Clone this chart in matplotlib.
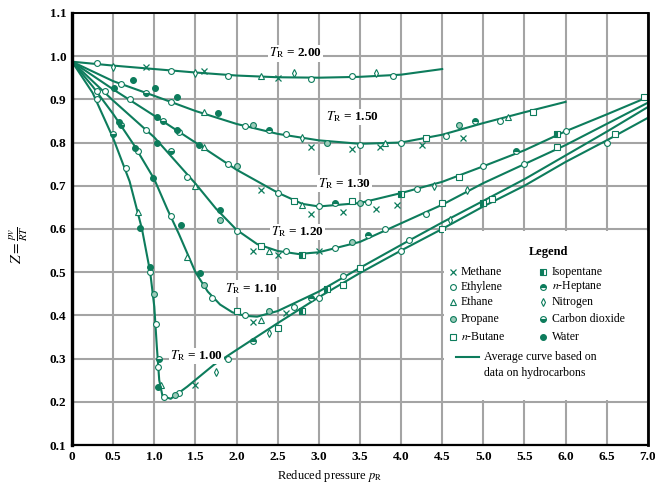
import matplotlib
matplotlib.use("Agg")
import matplotlib.pyplot as plt
from matplotlib.patches import Rectangle

plt.rcParams["font.family"] = ["Liberation Serif", "DejaVu Serif"]
plt.rcParams["mathtext.fontset"] = "stix"

GREEN = "#0d7c5c"
GRID = "#a4a4a4"

# ---------------------------------------------------------------------
# Average curves: reduced pressure -> Z
# ---------------------------------------------------------------------
pr_200 = [0, 0.5, 1.0, 1.5, 2.0, 2.5, 3.0, 3.5, 4.0, 4.5]
z_200 = [0.987, 0.978, 0.970, 0.962, 0.955, 0.951, 0.950, 0.952, 0.957, 0.970]

pr_150 = [0, 0.5, 1.0, 1.5, 2.0, 2.5, 3.0, 3.5, 4.0, 4.5, 5.0, 5.5, 6.0]
z_150 = [0.987, 0.942, 0.908, 0.873, 0.843, 0.820, 0.805, 0.797, 0.800, 0.818,
         0.845, 0.870, 0.894]

pr_130 = [0, 0.5, 1.0, 1.5, 2.0, 2.5, 2.8, 3.0, 3.5, 4.0, 4.5, 5.0, 5.5, 6.0,
          6.5, 7.0]
z_130 = [0.987, 0.923, 0.862, 0.800, 0.737, 0.684, 0.658, 0.652, 0.660, 0.683,
         0.709, 0.745, 0.782, 0.826, 0.865, 0.905]

pr_120 = [0, 0.5, 1.0, 1.5, 1.75, 2.0, 2.25, 2.5, 2.75, 3.0, 3.5, 4.0, 4.5,
          5.0, 5.5, 6.0, 6.5, 7.0]
z_120 = [0.987, 0.897, 0.812, 0.705, 0.647, 0.598, 0.565, 0.549, 0.542, 0.546,
         0.570, 0.613, 0.656, 0.706, 0.750, 0.794, 0.843, 0.892]

pr_110 = [0, 0.25, 0.5, 0.75, 1.0, 1.16, 1.3, 1.5, 1.65, 1.8, 1.95, 2.1, 2.25,
          2.5, 3.0, 3.5, 4.0, 4.5, 5.0, 5.5, 6.0, 6.5, 7.0]
z_110 = [0.987, 0.930, 0.866, 0.795, 0.715, 0.645, 0.588, 0.500, 0.455, 0.425,
         0.407, 0.399, 0.397, 0.410, 0.455, 0.510, 0.563, 0.615, 0.665, 0.715,
         0.770, 0.825, 0.882]

pr_100 = [0, 0.25, 0.5, 0.7, 0.85, 0.95, 1.0, 1.03, 1.06, 1.1, 1.2, 1.4, 1.72,
          2.0, 2.5, 3.0, 3.5, 4.0, 4.5, 5.0, 5.5, 6.0, 6.5, 7.0]
z_100 = [0.987, 0.915, 0.810, 0.710, 0.600, 0.500, 0.420, 0.330, 0.250, 0.213,
         0.207, 0.235, 0.285, 0.320, 0.382, 0.442, 0.498, 0.550, 0.600, 0.652,
         0.700, 0.755, 0.805, 0.857]

curves = [(pr_200, z_200), (pr_150, z_150), (pr_130, z_130),
          (pr_120, z_120), (pr_110, z_110), (pr_100, z_100)]

curve_labels = ["2.00", "1.50", "1.30", "1.20", "1.10", "1.00"]
label_x = [2.72, 3.41, 3.31, 2.74, 2.18, 1.51]
label_z = [1.007, 0.859, 0.706, 0.593, 0.463, 0.306]

# ---------------------------------------------------------------------
# Experimental points per gas (pr, z), read approximately off the chart
# ---------------------------------------------------------------------
methane_pr = [0.9, 1.6, 2.5, 2.9, 3.4, 3.75, 4.25, 4.75, 2.3, 2.9, 3.3, 3.7,
              3.95, 2.2, 2.5, 3.0, 2.2, 2.6, 1.5]
methane_z = [0.975, 0.965, 0.950, 0.790, 0.785, 0.790, 0.795, 0.810, 0.690,
             0.635, 0.640, 0.645, 0.655, 0.550, 0.540, 0.550, 0.385, 0.405, 0.240]

ethylene_pr = [0.3, 1.2, 1.9, 2.9, 3.4, 3.9, 0.6, 1.2, 2.1, 2.6, 3.5, 4.0, 4.55,
               5.2, 0.7, 1.3, 1.9, 2.5, 3.0, 3.6, 4.2, 5.0, 6.0, 0.4, 0.9, 1.4,
               2.0, 2.6, 3.2, 3.8, 4.3, 5.5, 0.3, 0.8, 1.2, 1.7, 2.1, 2.7, 3.3,
               4.1, 0.3, 0.65, 0.95, 1.02, 1.05, 1.12, 1.3, 1.9, 3.0, 4.0, 6.5]
ethylene_z = [0.985, 0.965, 0.955, 0.948, 0.955, 0.955, 0.935, 0.893, 0.838,
              0.820, 0.795, 0.800, 0.815, 0.850, 0.900, 0.825, 0.750, 0.684,
              0.652, 0.663, 0.692, 0.745, 0.826, 0.920, 0.830, 0.720, 0.595,
              0.550, 0.555, 0.600, 0.635, 0.750, 0.920, 0.780, 0.630, 0.440,
              0.400, 0.420, 0.490, 0.575, 0.900, 0.740, 0.500, 0.380, 0.280,
              0.210, 0.220, 0.300, 0.440, 0.550, 0.800]

ethane_pr = [2.3, 1.6, 3.8, 5.3, 1.6, 2.8, 1.5, 2.4, 1.4, 2.3, 0.8, 1.08]
ethane_z = [0.955, 0.870, 0.800, 0.860, 0.790, 0.655, 0.700, 0.550, 0.535,
            0.390, 0.640, 0.240]

propane_pr = [2.2, 3.1, 4.7, 2.0, 3.5, 1.8, 3.4, 1.6, 2.4, 1.0, 1.25]
propane_z = [0.840, 0.800, 0.840, 0.745, 0.660, 0.620, 0.570, 0.470, 0.410,
             0.450, 0.215]

butane_pr = [4.3, 5.6, 2.7, 3.4, 4.7, 6.95, 2.3, 4.5, 5.9, 2.0, 3.5, 5.1, 2.5,
             3.3, 4.5, 6.6]
butane_z = [0.810, 0.870, 0.665, 0.665, 0.720, 0.905, 0.560, 0.660, 0.790,
            0.410, 0.510, 0.670, 0.370, 0.470, 0.600, 0.820]

isopentane_pr = [4.0, 5.9, 2.8, 3.1, 2.8, 5.0]
isopentane_z = [0.680, 0.820, 0.540, 0.460, 0.410, 0.660]

heptane_pr = [2.4, 4.9, 3.2, 5.4, 3.6, 2.9, 2.2]
heptane_z = [0.830, 0.850, 0.660, 0.780, 0.585, 0.440, 0.340]

nitrogen_pr = [0.5, 1.5, 2.7, 3.7, 2.8, 4.4, 4.8, 4.6, 1.75, 2.4]
nitrogen_z = [0.975, 0.960, 0.960, 0.960, 0.810, 0.700, 0.690, 0.620, 0.270,
              0.360]

co2_pr = [0.9, 1.1, 1.2, 0.6, 0.5, 1.06]
co2_z = [0.915, 0.850, 0.780, 0.840, 0.820, 0.300]

water_pr = [0.74, 1.01, 1.28, 1.78, 0.51, 1.03, 1.28, 1.54, 0.57, 0.77, 1.03,
            1.80, 0.98, 1.32, 0.83, 0.95, 1.56, 1.05]
water_z = [0.945, 0.926, 0.906, 0.868, 0.927, 0.860, 0.829, 0.794, 0.847,
           0.787, 0.799, 0.644, 0.717, 0.609, 0.602, 0.512, 0.498, 0.234]

gases = [
    ("Methane", methane_pr, methane_z, dict(marker="x", mew=0.9)),
    ("Ethylene", ethylene_pr, ethylene_z, dict(marker="o", mfc="white")),
    ("Ethane", ethane_pr, ethane_z, dict(marker="^", mfc="white")),
    ("Propane", propane_pr, propane_z, dict(marker="o", mfc="#9ccbb9")),
    ("$n$-Butane", butane_pr, butane_z, dict(marker="s", mfc="white")),
    ("Isopentane", isopentane_pr, isopentane_z,
     dict(marker="s", fillstyle="left", mfc=GREEN, mfcalt="white")),
    ("$n$-Heptane", heptane_pr, heptane_z,
     dict(marker="o", fillstyle="top", mfc=GREEN, mfcalt="white")),
    ("Nitrogen", nitrogen_pr, nitrogen_z, dict(marker="d", mfc="white")),
    ("Carbon dioxide", co2_pr, co2_z,
     dict(marker="o", fillstyle="bottom", mfc=GREEN, mfcalt="white")),
    ("Water", water_pr, water_z, dict(marker="o", mfc=GREEN)),
]

# ---------------------------------------------------------------------
# Plot
# ---------------------------------------------------------------------
fig = plt.figure(figsize=(6.55, 4.95), dpi=100)
ax = fig.add_axes([0.110, 0.101, 0.879, 0.873])

ax.set_xlim(0, 7)
ax.set_ylim(0.1, 1.1)
xt = [i * 0.5 for i in range(15)]
ax.set_xticks(xt)
ax.set_xticklabels(["0"] + [f"{v:.1f}" for v in xt[1:]])
yt = [0.1 * i for i in range(1, 12)]
ax.set_yticks(yt)
ax.set_yticklabels([f"{v:.1f}" for v in yt])
ax.tick_params(length=0, labelsize=9.5, pad=4)
for lab in ax.get_xticklabels() + ax.get_yticklabels():
    lab.set_fontweight("bold")

ax.grid(True, color=GRID, linewidth=1.5, zorder=0)
ax.set_axisbelow(True)
for side, w in [("left", 2.4), ("bottom", 1.6), ("right", 2.0), ("top", 1.4)]:
    ax.spines[side].set_linewidth(w)
    ax.spines[side].set_color("black")
    ax.spines[side].set_zorder(6)

for pr, z in curves:
    ax.plot(pr, z, color=GREEN, linewidth=1.5, zorder=2)

for name, pr, z, st in gases:
    kw = dict(st)
    mew = kw.pop("mew", 0.8)
    ax.plot(pr, z, linestyle="none", color=GREEN, mec=GREEN, ms=4.2,
            mew=mew, zorder=3, **kw)

for lab, x, z in zip(curve_labels, label_x, label_z):
    ax.text(x, z, r"$T_\mathrm{R}$" + " = " + lab, ha="center", va="center",
            fontsize=9.5, fontweight="bold", zorder=5,
            bbox=dict(facecolor="white", edgecolor="none", pad=0.8))

# legend panel, drawn in the lower right cell block
ax.add_patch(Rectangle((4.52, 0.204), 2.48, 0.392, facecolor="white",
                       edgecolor="none", zorder=4))
ax.text(5.79, 0.547, "Legend", ha="center", va="center", fontsize=9,
        fontweight="bold", zorder=5)
rows_z = [0.500, 0.466, 0.431, 0.392, 0.350]
for i, (name, pr, z, st) in enumerate(gases):
    col, row = divmod(i, 5)
    mx = 4.63 if col == 0 else 5.73
    kw = dict(st)
    mew = kw.pop("mew", 0.8)
    ax.plot([mx], [rows_z[row]], linestyle="none", color=GREEN, mec=GREEN,
            ms=4.2, mew=mew, zorder=5, **kw)
    ax.text(mx + 0.1, rows_z[row], name, ha="left", va="center", fontsize=8.5,
            zorder=5)
ax.plot([4.67, 4.95], [0.304, 0.304], color=GREEN, linewidth=1.5, zorder=5)
ax.text(5.01, 0.304, "Average curve based on", ha="left", va="center",
        fontsize=8.5, zorder=5)
ax.text(5.01, 0.267, "data on hydrocarbons", ha="left", va="center",
        fontsize=8.5, zorder=5)

fig.text(0.504, 0.038, r"Reduced pressure $p_\mathrm{R}$", ha="center",
         va="center", fontsize=9)
fig.text(0.03, 0.505, r"$Z = \frac{pv}{RT}$", ha="center", va="center",
         rotation=90, fontsize=11)

fig.savefig("out.png", dpi=100)
